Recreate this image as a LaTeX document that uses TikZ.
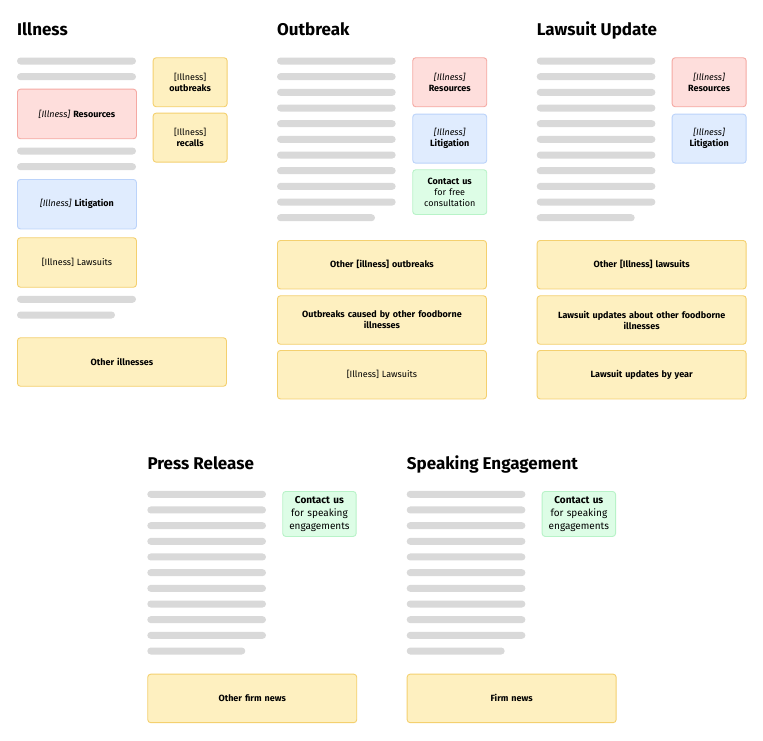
\documentclass[tikz,border=0pt]{standalone}
\usepackage{fontspec}
\setmainfont{Fira Sans}
\definecolor{barcol}{HTML}{D9D9D9}
\definecolor{redfill}{HTML}{FEDEDC}
\definecolor{redline}{HTML}{F5A9A3}
\definecolor{bluefill}{HTML}{E0ECFE}
\definecolor{blueline}{HTML}{BBD3FA}
\definecolor{yelfill}{HTML}{FEF0C0}
\definecolor{yelline}{HTML}{F4D06F}
\definecolor{grnfill}{HTML}{DDFDE6}
\definecolor{grnline}{HTML}{B8F3C8}
\newcommand{\ill}{{\mdseries\itshape [Illness]}}

\begin{document}
\begin{tikzpicture}[x=1pt,y=-1pt,
  title/.style={anchor=base west,inner sep=0pt,font=\fontsize{17}{20}\selectfont\bfseries},
  card/.style={draw,rounded corners=3pt,line width=0.9pt,anchor=north west,
    inner sep=0pt,align=center,font=\fontsize{9}{11}\selectfont\bfseries},
  red card/.style={card,draw=redline,fill=redfill},
  blue card/.style={card,draw=blueline,fill=bluefill},
  yellow card/.style={card,draw=yelline,fill=yelfill},
  green card/.style={card,draw=grnline,fill=grnfill},
  small/.style={minimum width=74pt,text width=70pt,minimum height=49pt},
  column/.style={minimum width=119pt,text width=114pt,minimum height=49.5pt},
  wide/.style={minimum width=209pt,text width=204pt,minimum height=48.5pt},
  textline/.style={fill=barcol,rounded corners=3.5pt}]

  \path[use as bounding box,fill=white] (0,0) rectangle (763,740);

  % Illness

  \begin{scope}[shift={(17,0)}]
    \node [title] (ill) at (0,35) {Illness};
    \foreach \y in {61,76.7,151,166.7,299.3}
      \fill [textline] (0,\y-3.5) rectangle (119,\y+3.5);
    \fill [textline] (0,311.5) rectangle (98,318.5);
    \node [red card,column,minimum height=49.6pt] (ill-res) at (0,88.7) {\ill{} Resources};
    \node [blue card,column] (ill-lit) at (0,179) {\ill{} Litigation};
    \node [yellow card,column,font=\fontsize{9}{11}\selectfont] (ill-law) at (0,237.3) {[Illness] Lawsuits};
    \node [yellow card,wide] (ill-oth) at (0,337.3) {Other illnesses};
    \node [yellow card,small] (ill-out) at (135.7,57.3) {{\mdseries [Illness]}\\outbreaks};
    \node [yellow card,small] (ill-rec) at (135.7,112.7) {{\mdseries [Illness]}\\recalls};
  \end{scope}

  % Outbreak

  \begin{scope}[shift={(277,0)}]
    \node [title] (out) at (0,35) {Outbreak};
    \foreach \k in {0,...,9}
      \fill [textline] (0,{61+15.67*\k-3.5}) rectangle (118.7,{61+15.67*\k+3.5});
    \fill [textline] (0,214.2) rectangle (98,221.2);
    \node [red card,small] (out-res) at (135.3,57.3) {\ill\\Resources};
    \node [blue card,small] (out-lit) at (135.3,113.7) {\ill\\Litigation};
    \node [green card,small,minimum height=44.7pt] (out-con) at (135.3,169.3)
      {Contact us\\{\mdseries for free\\consultation}};
    \node [yellow card,wide] (out-oth) at (0,240) {Other [illness] outbreaks};
    \node [yellow card,wide] (out-food) at (0,295.3) {Outbreaks caused by other foodborne\\illnesses};
    \node [yellow card,wide,font=\fontsize{9}{11}\selectfont] (out-law) at (0,350) {[Illness] Lawsuits};
  \end{scope}

  % Lawsuit Update

  \begin{scope}[shift={(536.7,0)}]
    \node [title] (law) at (0,35) {Lawsuit Update};
    \foreach \k in {0,...,9}
      \fill [textline] (0,{61+15.67*\k-3.5}) rectangle (118.7,{61+15.67*\k+3.5});
    \fill [textline] (0,214.2) rectangle (98,221.2);
    \node [red card,small] (law-res) at (135,57.3) {\ill\\Resources};
    \node [blue card,small] (law-lit) at (135,113.7) {\ill\\Litigation};
    \node [yellow card,wide] (law-oth) at (0,240) {Other [Illness] lawsuits};
    \node [yellow card,wide] (law-food) at (0,295.3) {Lawsuit updates about other foodborne\\illnesses};
    \node [yellow card,wide] (law-year) at (0,350) {Lawsuit updates by year};
  \end{scope}

  % Press Release

  \begin{scope}[shift={(147.3,0)}]
    \node [title] (press) at (0,469.3) {Press Release};
    \foreach \k in {0,...,9}
      \fill [textline] (0,{494.3+15.67*\k-3.5}) rectangle (118.7,{494.3+15.67*\k+3.5});
    \fill [textline] (0,647.5) rectangle (98,654.5);
    \node [green card,small,minimum width=73.4pt,minimum height=45pt,
      font=\fontsize{10}{12.8}\selectfont\bfseries] (press-con) at (135,491)
      {Contact us\\{\mdseries for speaking\\engagements}};
    \node [yellow card,wide] (press-news) at (0,673.7) {Other firm news};
  \end{scope}

  % Speaking Engagement

  \begin{scope}[shift={(406.7,0)}]
    \node [title] (speak) at (0,469.3) {Speaking Engagement};
    \foreach \k in {0,...,9}
      \fill [textline] (0,{494.3+15.67*\k-3.5}) rectangle (118.7,{494.3+15.67*\k+3.5});
    \fill [textline] (0,647.5) rectangle (98,654.5);
    \node [green card,small,minimum width=73.4pt,minimum height=45pt,
      font=\fontsize{10}{12.8}\selectfont\bfseries] (speak-con) at (135,491)
      {Contact us\\{\mdseries for speaking\\engagements}};
    \node [yellow card,wide] (speak-news) at (0,673.7) {Firm news};
  \end{scope}
\end{tikzpicture}
\end{document}
